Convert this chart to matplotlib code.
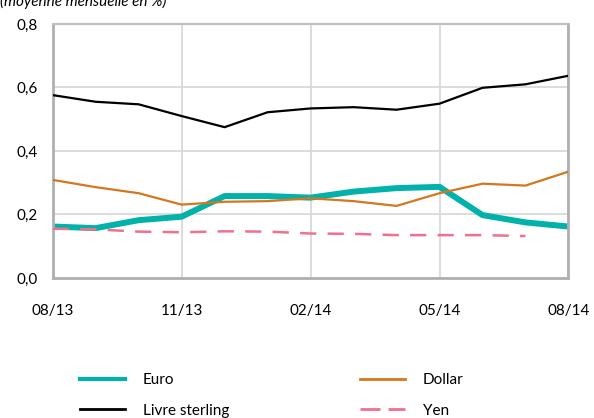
import numpy as np
import matplotlib.pyplot as plt

months = ["08/13", "09/13", "10/13", "11/13", "12/13", "01/14", "02/14",
          "03/14", "04/14", "05/14", "06/14", "07/14", "08/14"]
tick_labels = ["08/13", "11/13", "02/14", "05/14", "08/14"]

euro = [0.162, 0.157, 0.182, 0.193, 0.258, 0.258, 0.253, 0.272, 0.283, 0.287, 0.198, 0.175, 0.162]
livre = [0.576, 0.555, 0.547, 0.510, 0.475, 0.522, 0.534, 0.538, 0.530, 0.549, 0.599, 0.610, 0.637]
dollar = [0.309, 0.286, 0.267, 0.231, 0.240, 0.242, 0.251, 0.242, 0.227, 0.267, 0.297, 0.291, 0.335]
yen = [0.155, 0.153, 0.146, 0.144, 0.147, 0.146, 0.140, 0.139, 0.135, 0.135, 0.135, 0.132, np.nan]

plt.rcParams['font.family'] = ['Lato', 'DejaVu Sans']
FS = 11

fig = plt.figure(figsize=(5.94, 4.18), dpi=100)
ax = fig.add_axes([0.0887, 0.335, 0.957 - 0.0887, 0.9426 - 0.335])

x = np.arange(len(months))
l_euro, = ax.plot(x, euro, color="#00B2A9", lw=4.3, label="Euro", zorder=2)
l_livre, = ax.plot(x, livre, color="#000000", lw=1.6, label="Livre sterling", zorder=3)
l_dollar, = ax.plot(x, dollar, color="#D4771E", lw=1.6, label="Dollar", zorder=4)
l_yen, = ax.plot(x, yen, color="#F07090", lw=1.8, dashes=(6.5, 4.5), label="Yen", zorder=5)

ax.set_xlim(0, len(months) - 1)
ax.set_ylim(0, 0.8)
ax.set_xticks([0, 3, 6, 9, 12])
ax.set_xticklabels(tick_labels)
ax.set_yticks([0, 0.2, 0.4, 0.6, 0.8])
ax.set_yticklabels(["0,0", "0,2", "0,4", "0,6", "0,8"])
ax.tick_params(axis="both", length=0, labelsize=FS, colors="#000000")
ax.tick_params(axis="x", pad=19)
ax.tick_params(axis="y", pad=11)

ax.grid(True, color="#D9D9D9", lw=1.3, zorder=0)
ax.set_axisbelow(True)
for side in ["left", "bottom", "right"]:
    ax.spines[side].set_color("#B0B0B0")
    ax.spines[side].set_linewidth(2.0)
ax.spines["top"].set_color("#C0C0C0")
ax.spines["top"].set_linewidth(1.6)

fig.text(0.0, 1 - 6 / 418, "(moyenne mensuelle en %)", fontsize=FS,
         style="italic", ha="left", va="baseline")

leg_kw = dict(frameon=False, fontsize=FS, handlelength=2.95, handletextpad=1.15,
              labelspacing=1.09, borderpad=0, borderaxespad=0, loc="upper left")
leg1 = fig.legend([l_euro, l_livre], ["Euro", "Livre sterling"],
                  bbox_to_anchor=(80 / 594, 1 - 373 / 418), **leg_kw)
leg2 = fig.legend([l_dollar, l_yen], ["Dollar", "Yen"],
                  bbox_to_anchor=(360 / 594, 1 - 373 / 418), **leg_kw)

# slimmer legend keys
leg1.legend_handles[0].set_linewidth(3.0)
leg1.legend_handles[1].set_linewidth(2.0)
leg2.legend_handles[0].set_linewidth(2.0)
leg2.legend_handles[1].set_linewidth(2.0)
leg2.legend_handles[1].set_dashes((7.2, 2.9))

fig.savefig("out.png", dpi=100)
